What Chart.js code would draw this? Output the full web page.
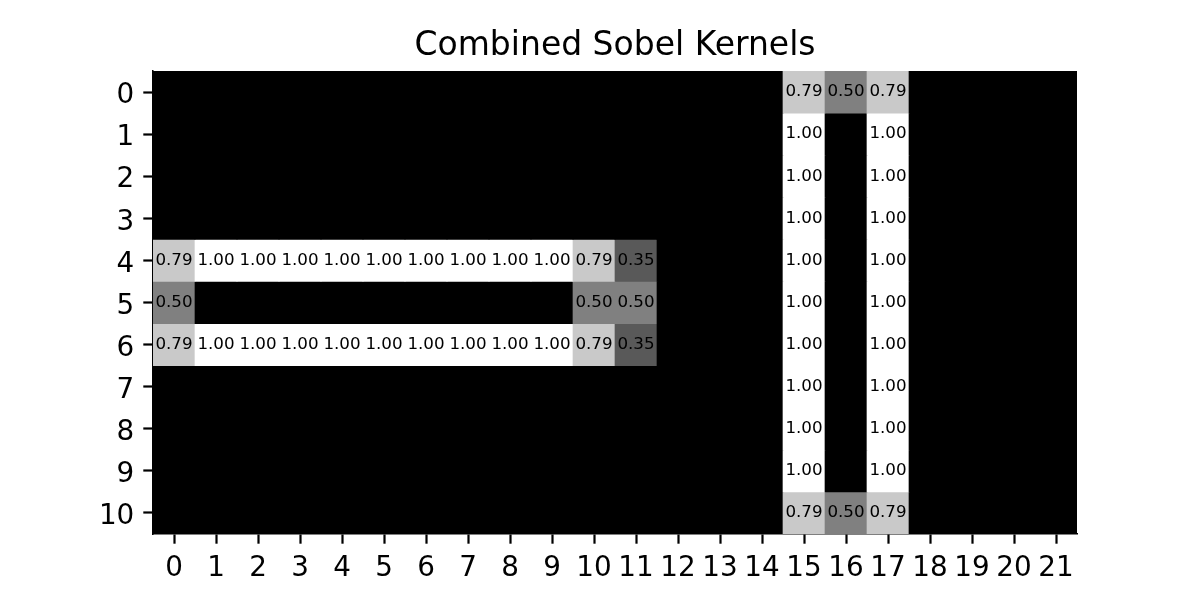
<!DOCTYPE html>
<html>
<head>
<meta charset="utf-8">
<title>Combined Sobel Kernels</title>
<script src="https://cdn.jsdelivr.net/npm/chart.js@4/dist/chart.umd.min.js"></script>
<style>
  html, body { margin: 0; padding: 0; background: #fff; }
  #wrap { width: 1200px; height: 600px; }
</style>
</head>
<body>
<div id="wrap"><canvas id="chart"></canvas></div>
<script>
// columns / rows of the image
const xLabels = ['0','1','2','3','4','5','6','7','8','9','10','11','12','13','14','15','16','17','18','19','20','21'];
const yLabels = [0, 1, 2, 3, 4, 5, 6, 7, 8, 9, 10];
const titleText = 'Combined Sobel Kernels';

// cell values, one array per row (top to bottom)
const row0  = [0,0,0,0,0,0,0,0,0,0,0,0,0,0,0,0.79,0.50,0.79,0,0,0,0];
const row1  = [0,0,0,0,0,0,0,0,0,0,0,0,0,0,0,1,0,1,0,0,0,0];
const row2  = [0,0,0,0,0,0,0,0,0,0,0,0,0,0,0,1,0,1,0,0,0,0];
const row3  = [0,0,0,0,0,0,0,0,0,0,0,0,0,0,0,1,0,1,0,0,0,0];
const row4  = [0.79,1,1,1,1,1,1,1,1,1,0.79,0.35,0,0,0,1,0,1,0,0,0,0];
const row5  = [0.50,0,0,0,0,0,0,0,0,0,0.50,0.50,0,0,0,1,0,1,0,0,0,0];
const row6  = [0.79,1,1,1,1,1,1,1,1,1,0.79,0.35,0,0,0,1,0,1,0,0,0,0];
const row7  = [0,0,0,0,0,0,0,0,0,0,0,0,0,0,0,1,0,1,0,0,0,0];
const row8  = [0,0,0,0,0,0,0,0,0,0,0,0,0,0,0,1,0,1,0,0,0,0];
const row9  = [0,0,0,0,0,0,0,0,0,0,0,0,0,0,0,1,0,1,0,0,0,0];
const row10 = [0,0,0,0,0,0,0,0,0,0,0,0,0,0,0,0.79,0.50,0.79,0,0,0,0];
const rows = [row0, row1, row2, row3, row4, row5, row6, row7, row8, row9, row10];

// matplotlib 'gray' colormap, vmin 0 vmax 1
function gray(v) {
  const g = Math.round(Math.max(0, Math.min(1, v)) * 255);
  return 'rgb(' + g + ',' + g + ',' + g + ')';
}

const datasets = rows.map((row, r) => ({
  data: row.map(() => [r - 0.5, r + 0.5]),
  values: row,
  backgroundColor: row.map(gray),
  borderColor: row.map(gray),
  borderWidth: 0,
  borderSkipped: false,
  grouped: false,
  categoryPercentage: 1,
  barPercentage: 1
}));

// write the value into each non-zero cell
const cellText = {
  id: 'cellText',
  afterDatasetsDraw(chart) {
    const ctx = chart.ctx;
    ctx.save();
    ctx.font = '16.7px "DejaVu Sans"';
    ctx.fillStyle = '#000';
    ctx.textAlign = 'center';
    ctx.textBaseline = 'middle';
    chart.data.datasets.forEach((ds, i) => {
      const meta = chart.getDatasetMeta(i);
      meta.data.forEach((bar, j) => {
        const v = ds.values[j];
        if (!v) return;
        const p = bar.getCenterPoint();
        ctx.fillText(v.toFixed(2), p.x, p.y);
      });
    });
    ctx.restore();
  }
};

// title centred over the plot area, like matplotlib's axes title
const axesTitle = {
  id: 'axesTitle',
  afterDraw(chart) {
    const ctx = chart.ctx;
    const area = chart.chartArea;
    ctx.save();
    ctx.font = '33px "DejaVu Sans"';
    ctx.fillStyle = '#000';
    ctx.textAlign = 'center';
    ctx.textBaseline = 'alphabetic';
    ctx.fillText(titleText, (area.left + area.right) / 2, area.top - 16);
    ctx.restore();
  }
};

const tickFont = { family: 'DejaVu Sans', size: 27.8 };

new Chart(document.getElementById('chart'), {
  type: 'bar',
  data: { labels: xLabels, datasets: datasets },
  options: {
    responsive: true,
    maintainAspectRatio: false,
    animation: false,
    layout: { padding: { left: 0, right: 123, top: 71, bottom: 0 } },
    plugins: {
      legend: { display: false },
      tooltip: { enabled: false },
      title: { display: false }
    },
    scales: {
      x: {
        type: 'category',
        offset: true,
        grid: { display: true, drawOnChartArea: false, drawTicks: true, tickLength: 9.7, tickWidth: 2.2, tickColor: '#000', offset: false },
        border: { display: true, color: '#000', width: 1.5 },
        ticks: { color: '#000', font: tickFont, padding: 8, maxRotation: 0, autoSkip: false },
        afterFit(scale) { scale.height = 66; }
      },
      y: {
        type: 'linear',
        reverse: true,
        min: -0.5,
        max: 10.5,
        grid: { display: true, drawOnChartArea: false, drawTicks: true, tickLength: 9.7, tickWidth: 2.2, tickColor: '#000' },
        border: { display: true, color: '#000', width: 1.5 },
        ticks: { color: '#000', font: tickFont, padding: 9, labelOffset: 4 },
        afterBuildTicks(scale) { scale.ticks = yLabels.map(v => ({ value: v })); },
        afterFit(scale) { scale.width = 153; }
      }
    }
  },
  plugins: [cellText, axesTitle]
});
</script>
</body>
</html>
